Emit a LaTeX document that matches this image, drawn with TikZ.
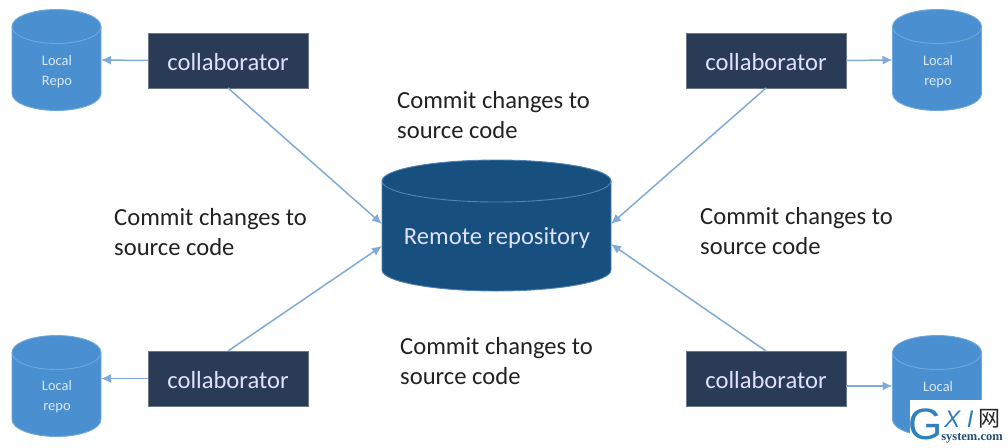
\documentclass[tikz,border=0pt]{standalone}
\usepackage{fontspec}
\setmainfont{Carlito}
\newfontfamily\cjkfont{Noto Sans CJK SC}
\newfontfamily\logofont{Liberation Sans}
\newfontfamily\logoserif{Liberation Serif}
\usetikzlibrary{arrows.meta}
\definecolor{boxnavy}{HTML}{2A3B55}
\definecolor{repoblue}{HTML}{4A8FD0}
\definecolor{repoedge}{HTML}{6FA8DC}
\definecolor{remoteblue}{HTML}{17507F}
\definecolor{remoteedge}{HTML}{4F84B4}
\definecolor{linkblue}{HTML}{7FABD6}
\definecolor{captiontext}{HTML}{222222}
\definecolor{logoblue}{HTML}{2F80BE}
\definecolor{logodark}{HTML}{1F4E79}
\tikzset{
  person/.style={rectangle,fill=boxnavy,draw=boxnavy!70!white,line width=.6pt,minimum width=160pt,minimum height=55pt,
    inner sep=0pt,outer sep=0pt,text=white!88!blue,text height=19pt,text depth=0pt,font=\fontsize{24.6}{24.6}\selectfont},
  repolabel/.style={text=white!80!repoblue,align=center,font=\fontsize{14.5}{20}\selectfont,inner sep=0pt},
  remotelabel/.style={text=white!88!blue,inner sep=0pt,font=\fontsize{24.6}{24.6}\selectfont},
  caption/.style={text=captiontext,align=left,anchor=west,inner sep=0pt,font=\fontsize{24.6}{30.5}\selectfont},
  link/.style={draw=linkblue,line width=1.5pt,-{Latex[length=10pt,width=9pt]}},
  cylframe/.style={rectangle,minimum width=#1,inner sep=0pt,outer sep=0pt},
}
% a drum: #1 name, #2 centre, #3 half width, #4 height, #5 end-cap radius, #6 fill, #7 edge
\newcommand{\drum}[7]{%
  \node[cylframe=#3*2,minimum height=#4] (#1) at (#2) {};
  \path[fill=#6,draw=#7,line width=.9pt]
    ([yshift=-#5]#1.north west)
    arc[start angle=180,end angle=0,x radius=#3,y radius=#5]
    -- ([yshift=#5]#1.south east)
    arc[start angle=0,end angle=-180,x radius=#3,y radius=#5]
    -- cycle;
  \draw[#7,line width=.9pt]
    ([yshift=-#5]#1.north west)
    arc[start angle=180,end angle=360,x radius=#3,y radius=#5];
}
\begin{document}
\begin{tikzpicture}[x=1pt,y=-1pt]
\useasboundingbox (0,0) rectangle (1008,447);
\fill[white] (0,0) rectangle (1008,447);

% central repository
\drum{remote}{496.5,225.5}{114.5pt}{131pt}{21pt}{remoteblue}{remoteedge}
\node[remotelabel] (remotetext) at (497,238.5) {Remote repository};
\coordinate (remoteNW) at (382,224);
\coordinate (remoteSW) at (382,246);
\coordinate (remoteNE) at (611,224);
\coordinate (remoteSE) at (611,244);

% collaborators
\node[person] (c1) at (228,60.5) {collaborator};
\node[person] (c2) at (766,60.5) {collaborator};
\node[person] (c3) at (228,378.5) {collaborator};
\node[person] (c4) at (766,378.5) {collaborator};

% local repositories
\drum{r1}{56.5,60}{44.5pt}{101pt}{17pt}{repoblue}{repoedge}
\drum{r2}{937,60}{44.5pt}{101pt}{17pt}{repoblue}{repoedge}
\drum{r3}{56.5,386}{44.5pt}{101pt}{17pt}{repoblue}{repoedge}
\drum{r4}{937,386}{44.5pt}{101pt}{17pt}{repoblue}{repoedge}
\node[repolabel] (t1) at (57,71.5) {Local\\Repo};
\node[repolabel] (t2) at (938,71.5) {Local\\repo};
\node[repolabel] (t3) at (57,397) {Local\\repo};
\node[repolabel] (t4) at (938,386.5) {Local};

% connectors
\draw[link] (c1.west) -- (r1.east);
\draw[link] (c2.east) -- (r2.west);
\draw[link] (c3.west) -- (r3.east |- c3.west);
\draw[link] (c4.east |- r4.east) -- (r4.west);
\draw[link] (c1.south) -- (remoteNW);
\draw[link] (c3.north) -- (remoteSW);
\draw[link] (c2.south) -- (remoteNE);
\draw[link] (c4.north) -- (remoteSE);

% captions
\node[caption] (n1) at (397,115) {Commit changes to\\source code};
\node[caption] (n2) at (114,232) {Commit changes to\\source code};
\node[caption] (n3) at (700,231) {Commit changes to\\source code};
\node[caption] (n4) at (400,361) {Commit changes to\\source code};

% site mark in the corner
\fill[white] (910,400) rectangle (1008,447);
\node[inner sep=0pt,text=logoblue,font=\logofont\fontsize{44}{44}\selectfont] (g) at (926,424) {G};
\node[inner sep=0pt,text=logoblue,font=\logofont\itshape\fontsize{24}{24}\selectfont] (xi) at (959,419) {X I};
\node[inner sep=0pt,text=black!85,font=\cjkfont\fontsize{22}{22}\selectfont] (wang) at (989,419) {网};
\node[inner sep=0pt,text=logodark,font=\logoserif\bfseries\fontsize{12.5}{12.5}\selectfont] (site) at (972,438) {system.com};
\end{tikzpicture}
\end{document}
